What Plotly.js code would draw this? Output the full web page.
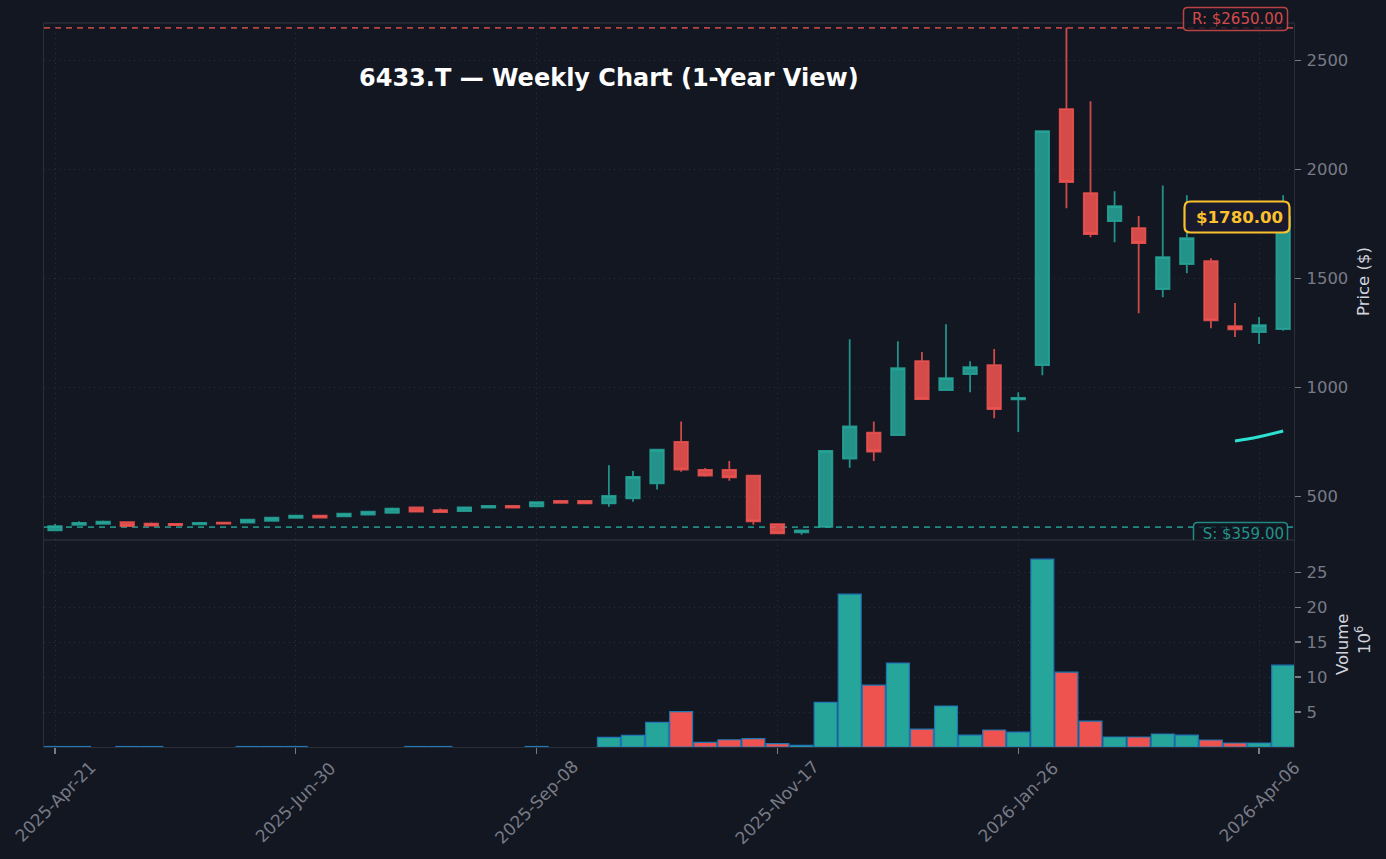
<!DOCTYPE html>
<html><head><meta charset="utf-8">
<script src="https://cdn.plot.ly/plotly-3.0.1.min.js"></script>
<style>html,body{margin:0;padding:0;background:#131722}</style></head>
<body><div id="chart" style="width:1386px;height:859px"></div>
<script>
const index=[...Array(52).keys()];
const opens =[344,370,374,382,375,374,372,380,380,388,402,412,408,416,425,449,437,433,449,456,454,479,479,468,491,560,750,622,622,595,373,335,360,674,792,781,1121,988,1061,1102,945,1102,2277,1891,1763,1731,1451,1566,1579,1281,1254,1268];
const highs =[373,386,390,386,380,376,380,382,394,407,413,414,422,431,449,454,444,452,457,457,475,483,480,643,616,714,844,630,662,595,373,348,709,1221,844,1212,1162,1290,1120,1176,978,2176,2650,2313,1900,1786,1927,1882,1593,1387,1323,1882];
const lows  =[342,366,372,362,364,367,371,374,378,387,398,402,406,416,424,428,427,432,448,449,452,470,467,452,475,532,613,590,572,370,330,324,358,631,663,781,946,988,978,859,795,1056,1822,1689,1666,1340,1414,1524,1272,1231,1199,1260];
const closes=[364,379,384,364,366,368,379,375,393,402,412,403,421,430,444,430,428,450,456,449,474,471,468,502,590,714,623,596,587,385,330,344,709,821,706,1088,946,1043,1093,900,952,2176,1942,1703,1832,1662,1598,1685,1308,1267,1286,1780];
const volumes=[0.07,0.07,null,0.07,0.07,null,null,null,0.07,0.07,0.07,null,null,null,null,0.07,0.07,null,null,null,0.07,null,null,1.38,1.67,3.52,5.05,0.66,1.04,1.19,0.47,0.24,6.38,21.86,8.86,12.0,2.57,5.86,1.7,2.43,2.14,26.86,10.7,3.7,1.43,1.43,1.86,1.7,1.0,0.57,0.57,11.7];
const maIndex=[49,50,51];
const maValues=[754,774,800];
const tickIndex=[0,10,20,30,40,50];
const tickLabels=['2025-Apr-21','2025-Jun-30','2025-Sep-08','2025-Nov-17','2026-Jan-26','2026-Apr-06'];
const priceTicks=[500,1000,1500,2000,2500];
const volumeTicks=[5,10,15,20,25];
const resistance=2650, support=359, lastPrice=1780;

const W=1386,H=859,L=44,R=1294,T=23,B=747,MID=540;
const xRange=[-0.457,51.45], yRange=[300,2672], y2Range=[0,29.6];
const TEAL='#26a69a',RED='#ef5350',GRID='#2a2e39',TICK='#787b86',LABEL='#d1d4dc',BG='#131722';
const px=x=>(x-L)/(R-L)*(xRange[1]-xRange[0])+xRange[0];
const py=y=>(MID-y)/(MID-T)*(yRange[1]-yRange[0])+yRange[0];
const fx=x=>(x-L)/(R-L), fy=y=>(B-y)/(B-T);
function rr(x0,y0,x1,y1,r,cx,cy){
  const P=(x,y)=>cx(x)+','+cy(y);
  return 'M'+P(x0+r,y0)+' L'+P(x1-r,y0)+' Q'+P(x1,y0)+' '+P(x1,y0+r)+' L'+P(x1,y1-r)+' Q'+P(x1,y1)+' '+P(x1-r,y1)+
         ' L'+P(x0+r,y1)+' Q'+P(x0,y1)+' '+P(x0,y1-r)+' L'+P(x0,y0+r)+' Q'+P(x0,y0)+' '+P(x0+r,y0)+' Z';
}
const font="'DejaVu Sans'";
const traces=[
 {type:'bar',x:index,y:volumes,xaxis:'x',yaxis:'y2',width:0.95,
  marker:{color:index.map(i=>closes[i]>=opens[i]?TEAL:RED),line:{color:'#1f77b4',width:1.2}},hoverinfo:'skip'},
 {type:'candlestick',x:index,open:opens,high:highs,low:lows,close:closes,xaxis:'x',yaxis:'y',whiskerwidth:0,
  increasing:{line:{color:'rgba(38,166,154,0.85)',width:1.8},fillcolor:'rgba(38,166,154,0.86)'},
  decreasing:{line:{color:'rgba(239,83,80,0.85)',width:1.8},fillcolor:'rgba(239,83,80,0.88)'},hoverinfo:'skip'},
 {type:'scatter',mode:'lines',x:maIndex,y:maValues,xaxis:'x',yaxis:'y',line:{color:'#2de2d0',width:3,shape:'spline'},hoverinfo:'skip'},
 {type:'scatter',mode:'text',x:[px(1284)],y:[py(535)],xaxis:'x',yaxis:'y',cliponaxis:true,text:['S: $'+support.toFixed(2)],
  textposition:'middle left',textfont:{family:font,size:15,color:'#229388'},hoverinfo:'skip'}
];
const ln=(x0,y0,x1,y1)=>({type:'line',xref:'paper',yref:'paper',x0:fx(x0),y0:fy(y0),x1:fx(x1),y1:fy(y1),line:{color:GRID,width:1.3},layer:'below'});
const shapes=[
 ln(L,T,R,T),ln(L,MID,R,MID),
 {type:'line',xref:'paper',yref:'y',x0:0,x1:1,y0:resistance,y1:resistance,line:{color:'rgba(239,83,80,0.75)',width:1.8,dash:'6px,5px'},layer:'below'},
 {type:'line',xref:'paper',yref:'y',x0:0,x1:1,y0:support,y1:support,line:{color:'rgba(38,166,154,0.8)',width:1.8,dash:'6px,5px'},layer:'below'},
 {type:'path',xref:'paper',yref:'paper',path:rr(1183.5,7.5,1287.5,30.5,4,fx,fy),fillcolor:'rgba(19,23,34,0.8)',line:{color:'rgba(239,83,80,0.75)',width:1.5},layer:'above'},
 {type:'path',xref:'x',yref:'y',path:rr(1193.5,522.5,1287.5,552,4,px,py),fillcolor:'rgba(19,23,34,0.8)',line:{color:'rgba(38,166,154,0.8)',width:1.5},layer:'between'},
 {type:'path',xref:'paper',yref:'paper',path:rr(1184.5,201.5,1289.5,232.5,6,fx,fy),fillcolor:'#1a1a2e',line:{color:'#fbc02d',width:2.2},layer:'above'}
];
const ann=(x,y,text,size,color,extra)=>Object.assign({xref:'paper',yref:'paper',x:fx(x),y:fy(y),text,showarrow:false,xanchor:'center',yanchor:'middle',font:{family:font,size,color}},extra||{});
const annotations=[
 ann(608.5,77.5,'6433.T — Weekly Chart (1-Year View)',24,'#ffffff',{font:{family:font,size:24,color:'#ffffff',weight:700}}),
 ann(1285,19,'R: $'+resistance.toFixed(2),15,'#d44a4a',{xanchor:'right'}),
 ann(1285,217,'$'+lastPrice.toFixed(2),16.6,'#fbc02d',{xanchor:'right',font:{family:font,size:16.6,color:'#fbc02d',weight:700}}),
 ann(1363,282,'Price ($)',16.5,LABEL,{textangle:-90}),
 ann(1342,645,'Volume',16.5,LABEL,{textangle:-90}),
 ann(1363,640,'10<sup>6</sup>',16.5,LABEL,{textangle:-90})
].concat(tickIndex.map((t,i)=>({xref:'x',yref:'paper',x:t,y:fy(802),xanchor:'center',yanchor:'middle',text:tickLabels[i],textangle:-45,showarrow:false,font:{family:font,size:17,color:TICK}})));
const axisY=(dom,range,ticks)=>({domain:dom,range,side:'right',tickmode:'array',tickvals:ticks,ticktext:ticks.map(String),
  tickfont:{family:font,size:16.4,color:TICK},ticks:'outside',ticklen:6,tickcolor:TICK,tickwidth:1.2,ticklabelstandoff:2,
  showgrid:true,gridcolor:GRID,griddash:'1px,4px',gridwidth:1,showline:true,linecolor:GRID,linewidth:1.3,mirror:true,zeroline:false,anchor:'x',fixedrange:true});
const layout={
 width:W,height:H,margin:{l:L,r:W-R,t:T,b:H-B,pad:0},paper_bgcolor:BG,plot_bgcolor:BG,showlegend:false,boxgap:0.44,boxgroupgap:0,bargap:0,
 hovermode:false,
 xaxis:{anchor:'y2',range:xRange,rangeslider:{visible:false},tickmode:'array',tickvals:tickIndex,ticktext:tickLabels,showticklabels:false,
  ticks:'outside',ticklen:6,tickcolor:TICK,tickwidth:1.2,showgrid:true,gridcolor:GRID,griddash:'1px,4px',gridwidth:1,
  showline:true,linecolor:GRID,linewidth:1.3,zeroline:false,fixedrange:true},
 yaxis:axisY([(B-MID)/(B-T),1],yRange,priceTicks),
 yaxis2:axisY([0,(B-MID)/(B-T)],y2Range,volumeTicks),
 shapes,annotations
};
Plotly.newPlot('chart',traces,layout,{displayModeBar:false,staticPlot:true});
</script></body></html>
